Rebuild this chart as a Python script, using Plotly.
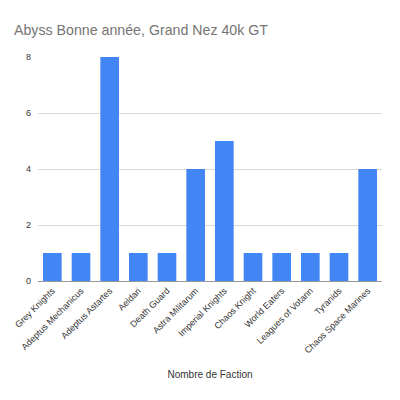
import plotly.graph_objects as go

factions = [
    "Grey Knights", "Adeptus Mechanicus", "Adeptus Astartes", "Aeldari",
    "Death Guard", "Astra Militarum", "Imperial Knights", "Chaos Knight",
    "World Eaters", "Leagues of Votann", "Tyranids", "Chaos Space Marines",
]
counts = [1, 1, 8, 1, 1, 4, 5, 1, 1, 1, 1, 4]
y_ticks = [0, 2, 4, 6, 8]

fig = go.Figure(go.Bar(
    x=factions,
    y=counts,
    marker_color="#4285f4",
    marker_line_width=0,
))

# the page adds an 8px body margin, so margins are trimmed to compensate
fig.update_layout(
    width=400,
    height=400,
    paper_bgcolor="white",
    plot_bgcolor="white",
    font=dict(family="Liberation Sans, Arial, sans-serif", color="#444444"),
    title=dict(
        text="Abyss Bonne année, Grand Nez 40k GT",
        x=0.015, xanchor="left", y=0.945, yanchor="middle",
        font=dict(size=14.2, color="#757575"),
    ),
    margin=dict(l=30, r=26, t=49, b=127),
    bargap=0.35,
    showlegend=False,
)
fig.update_xaxes(
    automargin=False,
    tickangle=-45,
    tickfont=dict(size=9, color="#333333"),
    title=dict(text="Nombre de Faction", font=dict(size=10, color="#333333"), standoff=16),
    showline=True, linecolor="#999999", linewidth=1,
    ticks="",
)
fig.update_yaxes(
    automargin=False,
    range=[0, 8],
    tickvals=y_ticks,
    tickfont=dict(size=9, color="#333333"),
    gridcolor="#d9d9d9",
    zeroline=False,
    ticks="",
    ticklabelstandoff=6,
)

fig.write_html("out.html")
